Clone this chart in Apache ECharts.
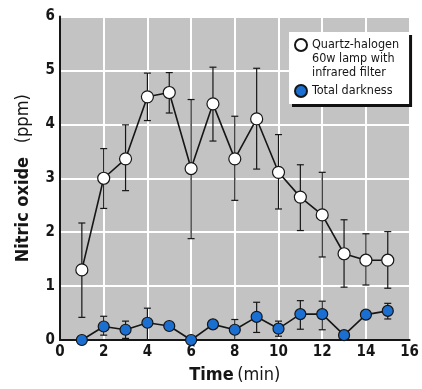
<!DOCTYPE html>
<html>
<head>
<meta charset="utf-8">
<script src="https://cdn.jsdelivr.net/npm/echarts@6/dist/echarts.min.js"></script>
<style>
html,body{margin:0;padding:0;background:#fff;}
#chart{width:422px;height:389px;}
</style>
</head>
<body>
<div id="chart"></div>
<script>
// ---- data ----
const time = [1, 2, 3, 4, 5, 6, 7, 8, 9, 10, 11, 12, 13, 14, 15];
const lampMean = [1.30, 3.00, 3.36, 4.51, 4.59, 3.18, 4.38, 3.36, 4.10, 3.11, 2.65, 2.32, 1.60, 1.48, 1.48];
const lampHigh = [2.17, 3.55, 3.99, 4.95, 4.96, 4.46, 5.06, 4.15, 5.04, 3.81, 3.25, 3.11, 2.23, 1.97, 2.01];
const lampLow  = [0.42, 2.44, 2.77, 4.07, 4.21, 1.88, 3.69, 2.59, 3.17, 2.43, 2.03, 1.54, 0.98, 1.02, 0.96];
const darkMean = [0.00, 0.25, 0.19, 0.32, 0.26, 0.00, 0.29, 0.19, 0.43, 0.21, 0.48, 0.48, 0.09, 0.47, 0.54];
const darkHigh = [null, 0.44, 0.35, 0.59, null, null, null, 0.38, 0.70, 0.35, 0.73, 0.72, null, null, 0.68];
const darkLow  = [null, 0.09, 0.03, 0.00, null, null, null, 0.00, 0.14, 0.07, 0.20, 0.19, null, null, 0.39];
const seriesNames = ['Quartz-halogen\n60w lamp with\ninfrared filter', 'Total darkness'];
const xTicks = { min: 0, max: 16, step: 2 };
const yTicks = { min: 0, max: 6, step: 1 };
const xTitle = ['Time', '(min)'];
const yTitle = ['Nitric oxide', '(ppm)'];

// ---- styling ----
const FONT = '"Liberation Sans Narrow", "DejaVu Sans Condensed", "Arial Narrow", sans-serif';
const INK = '#161616';
const BLUE = '#1b6fd1';

const pair = (xs, ys) => xs.map((x, i) => [x, ys[i]]);
const errData = (lo, hi) => time.map((x, i) => [x, lo[i], hi[i]]).filter(d => d[1] != null && d[2] != null);

function errRender(params, api) {
  const x = api.value(0);
  const lo = api.coord([x, api.value(1)]);
  const hi = api.coord([x, api.value(2)]);
  const cap = 3.5;
  const st = { stroke: INK, lineWidth: 1.2 };
  return {
    type: 'group',
    children: [
      { type: 'line', shape: { x1: lo[0], y1: lo[1], x2: hi[0], y2: hi[1] }, style: st },
      { type: 'line', shape: { x1: hi[0] - cap, y1: hi[1], x2: hi[0] + cap, y2: hi[1] }, style: st },
      { type: 'line', shape: { x1: lo[0] - cap, y1: lo[1], x2: lo[0] + cap, y2: lo[1] }, style: st }
    ]
  };
}

// icon: circle sitting at top of a tall box, so it lines up with the first text line
const topCircleIcon = 'path://M0,7 A6,6 0 1 1 12,7 A6,6 0 1 1 0,7 Z M0,0 M12,42';

const chart = echarts.init(document.getElementById('chart'), null, { renderer: 'canvas' });
chart.setOption({
  animation: false,
  backgroundColor: '#ffffff',
  textStyle: { fontFamily: FONT },
  grid: {
    left: 60, right: 6, top: 16.5, bottom: 46.7,
    show: true, backgroundColor: '#c3c3c3', borderWidth: 0
  },
  legend: [
    {
      left: 289, top: 32,
      orient: 'vertical',
      data: [{ name: seriesNames[0], icon: topCircleIcon }],
      itemWidth: 12, itemHeight: 42,
      padding: [5, 10, 23, 5],
      backgroundColor: '#ffffff',
      shadowColor: '#111111', shadowBlur: 0, shadowOffsetX: 3, shadowOffsetY: 3,
      selectedMode: false,
      textStyle: { fontFamily: FONT, fontSize: 12.5, lineHeight: 14, color: INK }
    },
    {
      left: 294, top: 84, z: 6,
      orient: 'vertical',
      data: [{ name: seriesNames[1], icon: 'circle' }],
      itemWidth: 12, itemHeight: 12,
      padding: 0,
      selectedMode: false,
      textStyle: { fontFamily: FONT, fontSize: 12.5, lineHeight: 14, color: INK }
    }
  ],
  xAxis: {
    type: 'value',
    min: xTicks.min, max: xTicks.max, interval: xTicks.step,
    name: '{b|' + xTitle[0] + '} {r|' + xTitle[1] + '}',
    nameLocation: 'middle', nameGap: 26,
    nameTextStyle: {
      rich: {
        b: { fontFamily: FONT, fontSize: 18, fontWeight: 'bold', color: INK },
        r: { fontFamily: FONT, fontSize: 18, color: INK }
      }
    },
    axisLine: { show: true, lineStyle: { color: INK, width: 2 } },
    axisTick: { show: false },
    axisLabel: { margin: 5, fontFamily: FONT, fontSize: 15, fontWeight: 'bold', color: INK },
    splitLine: { show: true, lineStyle: { color: '#ffffff', width: 2 } }
  },
  yAxis: {
    type: 'value',
    min: yTicks.min, max: yTicks.max, interval: yTicks.step,
    name: '{b|' + yTitle[0] + '}    {r|' + yTitle[1] + '}',
    nameLocation: 'middle', nameGap: 28,
    nameTextStyle: {
      rich: {
        b: { fontFamily: FONT, fontSize: 18, fontWeight: 'bold', color: INK },
        r: { fontFamily: FONT, fontSize: 18, color: INK }
      }
    },
    axisLine: { show: true, lineStyle: { color: INK, width: 2 } },
    axisTick: { show: false },
    axisLabel: { margin: 5, fontFamily: FONT, fontSize: 15, fontWeight: 'bold', color: INK },
    splitLine: { show: true, lineStyle: { color: '#ffffff', width: 2 } }
  },
  series: [
    {
      type: 'custom', name: 'lampErr', z: 1, clip: false,
      renderItem: errRender, data: errData(lampLow, lampHigh)
    },
    {
      type: 'custom', name: 'darkErr', z: 1, clip: false,
      renderItem: errRender, data: errData(darkLow, darkHigh)
    },
    {
      type: 'line', name: seriesNames[0], z: 3, clip: false,
      data: pair(time, lampMean),
      symbol: 'circle', symbolSize: 12,
      lineStyle: { color: INK, width: 1.6 },
      itemStyle: { color: '#ffffff', borderColor: INK, borderWidth: 1.2 }
    },
    {
      type: 'line', name: seriesNames[1], z: 3, clip: false,
      data: pair(time, darkMean),
      symbol: 'circle', symbolSize: 11,
      lineStyle: { color: INK, width: 1.6 },
      itemStyle: { color: BLUE, borderColor: INK, borderWidth: 1.2 }
    }
  ]
});
</script>
</body>
</html>
